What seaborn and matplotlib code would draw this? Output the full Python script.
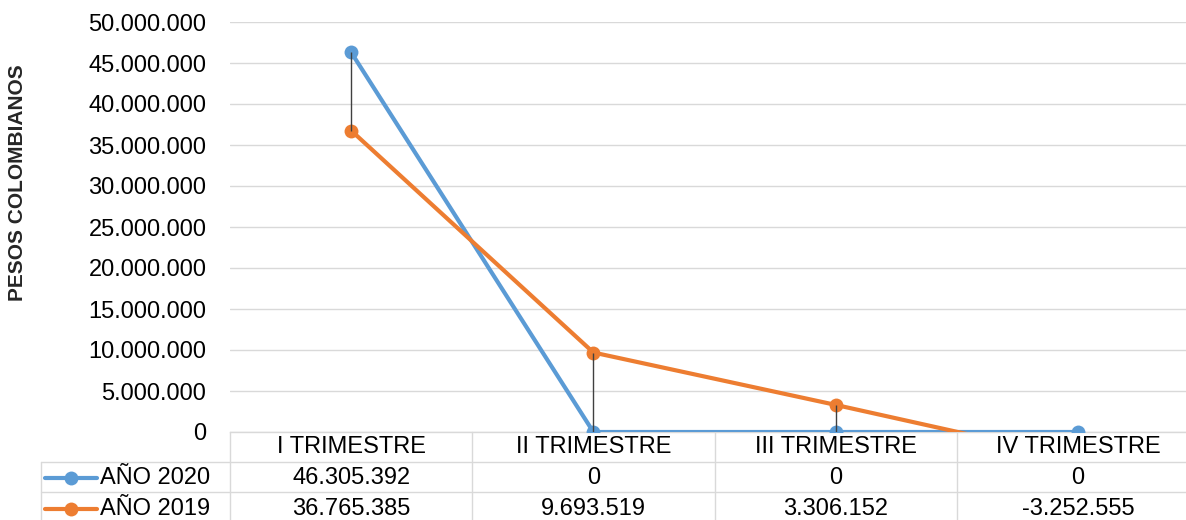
import pandas as pd
import matplotlib
matplotlib.use("Agg")
import matplotlib.pyplot as plt
import matplotlib.transforms as mtrans
from matplotlib.ticker import FuncFormatter
import seaborn as sns

# datos
trimestres = ["I TRIMESTRE", "II TRIMESTRE", "III TRIMESTRE", "IV TRIMESTRE"]
anio_2020 = [46305392, 0, 0, 0]
anio_2019 = [36765385, 9693519, 3306152, -3252555]
series = ["AÑO 2020", "AÑO 2019"]
colores = ["#5B9BD5", "#ED7D31"]

df = pd.DataFrame({
    "pos": list(range(len(trimestres))) * 2,
    "valor": anio_2020 + anio_2019,
    "serie": [series[0]] * 4 + [series[1]] * 4,
})


def puntos(v):
    return f"{int(v):,}".replace(",", ".")


sns.set_style("white")
plt.rcParams["font.family"] = ["Liberation Sans", "DejaVu Sans"]

W, H = 1186, 520
FS = 17
fig = plt.figure(figsize=(W / 100, H / 100), dpi=100)
# plot area in pixels: x 230..1199, y 22..432
ax = fig.add_axes([230 / W, (H - 432) / H, 969 / W, 410 / H])

sns.lineplot(data=df, x="pos", y="valor", hue="serie", hue_order=series,
             palette=colores, marker="o", markersize=10, markeredgewidth=0,
             linewidth=3, legend=False, ax=ax, zorder=3)

# lineas max-min entre series
lo = [min(a, b) for a, b in zip(anio_2020, anio_2019)]
hi = [max(a, b) for a, b in zip(anio_2020, anio_2019)]
ax.vlines(range(len(trimestres)), lo, hi, color="#404040", lw=1, zorder=4)

ax.set_xlim(-0.5, len(trimestres) - 0.5)
ax.set_ylim(0, 50000000)
ax.set_yticks(range(0, 50000001, 5000000))
ax.yaxis.set_major_formatter(FuncFormatter(lambda v, p: puntos(v)))
ax.tick_params(axis="y", length=0, pad=17, labelsize=FS, labelcolor="#000000")
ax.set_xticks([])
ax.set_xlabel("")
ax.set_ylabel("")
ax.yaxis.grid(True, color="#D9D9D9", lw=1)
ax.set_axisbelow(True)
for s in ["left", "right", "top"]:
    ax.spines[s].set_visible(False)
ax.spines["bottom"].set_color("#D9D9D9")
ax.spines["bottom"].set_linewidth(1)

fig.text(18 / W, 1 - 183 / H, "PESOS COLOMBIANOS", rotation=90,
         ha="center", va="center", fontsize=15, fontweight="bold")

# tabla de datos
tr = mtrans.blended_transform_factory(ax.transData, ax.transAxes)


def yax(p):
    return (432 - p) / 410


def xax(p):
    return (p - 230) / 969


gris = "#D9D9D9"
n = len(trimestres)
for i in range(n + 1):
    ax.plot([i - 0.5, i - 0.5], [yax(432), yax(525)], color=gris, lw=1,
            transform=tr, clip_on=False)
for p in [462, 492]:
    ax.plot([xax(41), 1.0], [yax(p), yax(p)], color=gris, lw=1,
            transform=ax.transAxes, clip_on=False)
ax.plot([xax(41), xax(41)], [yax(462), yax(525)], color=gris, lw=1,
        transform=ax.transAxes, clip_on=False)

for i, t in enumerate(trimestres):
    ax.text(i, yax(447), t, transform=tr, ha="center", va="center",
            fontsize=FS, color="#000000")

filas = [anio_2020, anio_2019]
for r, (nombre, valores, col) in enumerate(zip(series, filas, colores)):
    yc = yax(478 + 31 * r)
    ax.plot([xax(45), xax(97)], [yc, yc], color=col, lw=3,
            transform=ax.transAxes, clip_on=False)
    ax.plot([xax(71)], [yc], marker="o", markersize=10, markeredgewidth=0,
            color=col, transform=ax.transAxes, clip_on=False)
    ax.text(xax(100), yc, nombre, transform=ax.transAxes, ha="left",
            va="center", fontsize=FS, color="#000000")
    for i, v in enumerate(valores):
        ax.text(i, yc, puntos(v), transform=tr, ha="center", va="center",
                fontsize=FS, color="#000000")

fig.savefig("out.png", dpi=100)
